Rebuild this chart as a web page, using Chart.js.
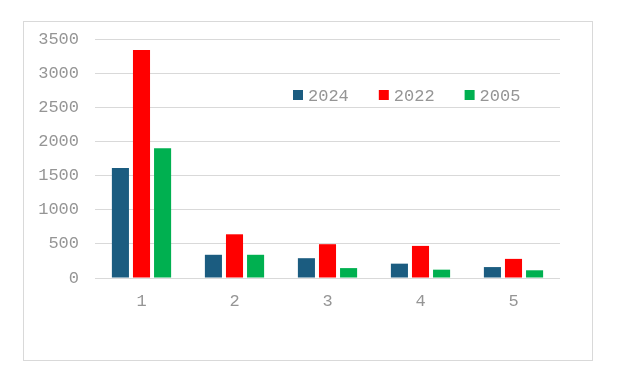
<!DOCTYPE html>
<html>
<head>
<meta charset="utf-8">
<script src="https://cdn.jsdelivr.net/npm/chart.js@4/dist/chart.umd.min.js"></script>
<style>
  body { margin: 0; background: #fff; }
  #box {
    position: absolute; left: 23px; top: 21px;
    width: 568px; height: 338px;
    border: 1px solid #d9d9d9;
  }
</style>
</head>
<body>
<div id="box"><canvas id="barChart" width="568" height="338"></canvas></div>
<script>
// chart data
const categories = ['1', '2', '3', '4', '5'];
const seriesNames = ['2024', '2022', '2005'];
const values2024 = [1610, 340, 290, 210, 160];
const values2022 = [3340, 640, 495, 470, 280];
const values2005 = [1900, 340, 145, 122, 113];
const yTicks = [0, 500, 1000, 1500, 2000, 2500, 3000, 3500];

const colors = ['#1b5c80', '#ff0000', '#00b050'];
const textColor = '#959595';
const tickFont = { family: 'Liberation Mono', size: 17 };

// legend drawn inside the plot, like the original
const insideLegend = {
    id: 'insideLegend',
    afterDraw(chart) {
        const ctx = chart.ctx;
        const area = chart.chartArea;
        let x = area.left + 198;
        const y = area.top + 56;
        ctx.save();
        ctx.font = '17px "Liberation Mono"';
        ctx.textBaseline = 'middle';
        chart.data.datasets.forEach(ds => {
            ctx.fillStyle = ds.backgroundColor;
            ctx.fillRect(x, y - 5, 10, 10);
            ctx.fillStyle = textColor;
            ctx.fillText(ds.label, x + 15, y + 1);
            x += 15 + ctx.measureText(ds.label).width + 30;
        });
        ctx.restore();
    }
};

const ctx = document.getElementById('barChart').getContext('2d');
new Chart(ctx, {
    type: 'bar',
    data: {
        labels: categories,
        datasets: [values2024, values2022, values2005].map((vals, i) => ({
            label: seriesNames[i],
            data: vals,
            backgroundColor: colors[i],
            barPercentage: 0.81,
            categoryPercentage: 0.68
        }))
    },
    options: {
        responsive: false,
        animation: false,
        layout: { padding: { top: 17, right: 32, left: 0, bottom: 0 } },
        plugins: {
            legend: { display: false },
            tooltip: { enabled: false }
        },
        scales: {
            x: {
                grid: { display: false },
                border: { display: false },
                ticks: { color: textColor, font: tickFont, padding: 5 },
                afterFit: scale => { scale.height = 82; }
            },
            y: {
                min: 0,
                max: 3500,
                afterBuildTicks: scale => { scale.ticks = yTicks.map(v => ({ value: v })); },
                grid: { color: '#d9d9d9', drawTicks: false },
                border: { display: false },
                ticks: {
                    color: textColor,
                    font: tickFont,
                    padding: 16,
                    callback: v => String(v)
                },
                afterFit: scale => {
                    scale.width = 71;
                    scale.paddingTop = 0;
                    scale.paddingBottom = 0;
                }
            }
        }
    },
    plugins: [insideLegend]
});
</script>
</body>
</html>
